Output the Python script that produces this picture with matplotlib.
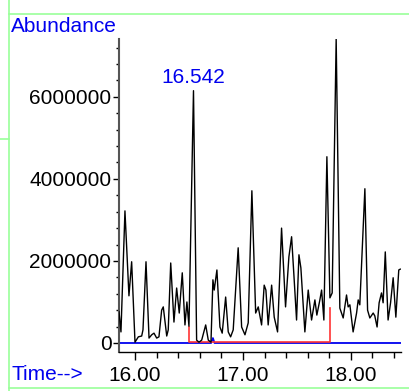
import numpy as np
import matplotlib
matplotlib.use('Agg')
import matplotlib.pyplot as plt
from matplotlib.lines import Line2D
from matplotlib.ticker import MultipleLocator, FuncFormatter

plt.rcParams['font.family'] = ['Liberation Sans', 'DejaVu Sans']

# TIC trace (time in min, abundance)
t_tic = [15.852, 15.870, 15.907, 15.944, 15.969, 16.000, 16.031, 16.062, 16.074, 16.102,
         16.130, 16.155, 16.176, 16.201, 16.222, 16.247, 16.262, 16.294, 16.308, 16.331,
         16.361, 16.386, 16.410, 16.438, 16.463, 16.481, 16.500, 16.542, 16.571, 16.593,
         16.618, 16.655, 16.679, 16.704, 16.722, 16.734, 16.759, 16.787, 16.808, 16.840,
         16.864, 16.886, 16.910, 16.956, 16.988, 17.019, 17.049, 17.083, 17.118, 17.142,
         17.173, 17.197, 17.213, 17.234, 17.266, 17.290, 17.321, 17.358, 17.395, 17.426,
         17.451, 17.475, 17.497, 17.519, 17.537, 17.574, 17.605, 17.636, 17.667, 17.685,
         17.713, 17.729, 17.750, 17.778, 17.806, 17.827, 17.864, 17.898, 17.929, 17.960,
         17.975, 17.991, 18.021, 18.053, 18.068, 18.083, 18.130, 18.155, 18.176, 18.207,
         18.222, 18.243, 18.262, 18.284, 18.299, 18.319, 18.345, 18.368, 18.392, 18.417,
         18.444, 18.458]
a_tic = [0.76, 0.27, 3.22, 1.15, 1.98, 0.02, 0.15, 0.17, 0.32, 1.98,
         0.12, 0.20, 0.24, 0.12, 0.15, 0.80, 0.88, 0.17, 0.32, 1.95,
         0.51, 1.34, 0.73, 1.71, 0.44, 1.00, 0.41, 6.15, 0.07, 0.02,
         0.07, 0.44, 0.07, 0.02, 1.54, 1.29, 1.78, 0.39, 0.24, 1.12,
         0.27, 0.15, 0.32, 2.32, 0.39, 0.20, 0.49, 3.71, 0.73, 0.88,
         0.44, 1.41, 1.29, 0.44, 1.41, 0.63, 0.27, 2.80, 0.88, 2.10,
         2.59, 1.54, 0.56, 2.15, 1.83, 0.27, 1.29, 0.56, 1.05, 0.68,
         1.05, 1.29, 0.56, 4.54, 1.10, 1.22, 7.41, 0.85, 0.61, 1.17,
         0.88, 0.93, 0.27, 0.73, 1.05, 0.93, 3.76, 0.80, 0.61, 0.73,
         0.66, 0.39, 0.98, 1.22, 0.98, 2.22, 0.56, 0.98, 1.59, 0.63,
         1.78, 1.80]
a_tic = [v * 1e6 for v in a_tic]

# integration baseline (red)
t_int = [16.500, 16.500, 17.806, 17.806]
a_int = [0.40e6, 0.02e6, 0.02e6, 0.86e6]

# second signal (blue)
t_sig = [15.852, 16.705, 16.722, 16.737, 18.463]
a_sig = [0, 0, 0.12e6, 0, 0]

peak_rt = 16.542
peak_top = 6.15e6

fig = plt.figure(figsize=(4.09, 3.91), dpi=100)
ax = fig.add_axes([0.291, 0.0997, 0.689, 0.8006])

ax.plot(t_sig, a_sig, color='#0000ee', lw=1.3, zorder=2)
ax.plot(t_int, a_int, color='#ff3333', lw=1.2, zorder=3)
ax.plot(t_tic, a_tic, color='black', lw=1.0, zorder=4)

ax.text(peak_rt, peak_top + 0.1e6, '16.542', color='#0000ee', fontsize=15,
        ha='center', va='bottom')

ax.set_xlim(15.852, 18.463)
ax.set_ylim(-0.22e6, 7.41e6)

for s in ['top', 'right']:
    ax.spines[s].set_visible(False)
ax.spines['left'].set_color('#555555')
ax.spines['left'].set_linewidth(1.5)
ax.spines['bottom'].set_color('black')
ax.spines['bottom'].set_linewidth(1.0)

ax.xaxis.set_major_locator(MultipleLocator(1.0))
ax.xaxis.set_minor_locator(MultipleLocator(0.2))
ax.yaxis.set_major_locator(MultipleLocator(2e6))
ax.yaxis.set_minor_locator(MultipleLocator(4e5))
ax.xaxis.set_major_formatter(FuncFormatter(lambda v, p: '%.2f' % v))
ax.yaxis.set_major_formatter(FuncFormatter(lambda v, p: '%d' % v))

ax.tick_params(axis='x', which='major', length=6, width=1, labelsize=15, pad=4)
ax.tick_params(axis='x', which='minor', length=4, width=1)
ax.tick_params(axis='y', which='major', length=4.5, width=1, labelsize=15, pad=1)
ax.tick_params(axis='y', which='minor', length=2.5, width=1)

fig.text(0.027, 0.931, 'Abundance', color='#0000ee', fontsize=15, ha='left', va='center')
fig.text(0.027, 0.041, 'Time-->', color='#0000ee', fontsize=15, ha='left', va='center')

# light green frame
green = '#99ff99'
fig.add_artist(Line2D([0.023, 0.023], [0, 1], color=green, lw=1.2, transform=fig.transFigure))
fig.add_artist(Line2D([0.023, 1], [0.963, 0.963], color=green, lw=1.2, transform=fig.transFigure))
fig.add_artist(Line2D([0.023, 1], [0.008, 0.008], color=green, lw=1.2, transform=fig.transFigure))
fig.add_artist(Line2D([0, 0.023], [0.644, 0.644], color=green, lw=1.2, transform=fig.transFigure))

fig.savefig('out.png', dpi=100)
